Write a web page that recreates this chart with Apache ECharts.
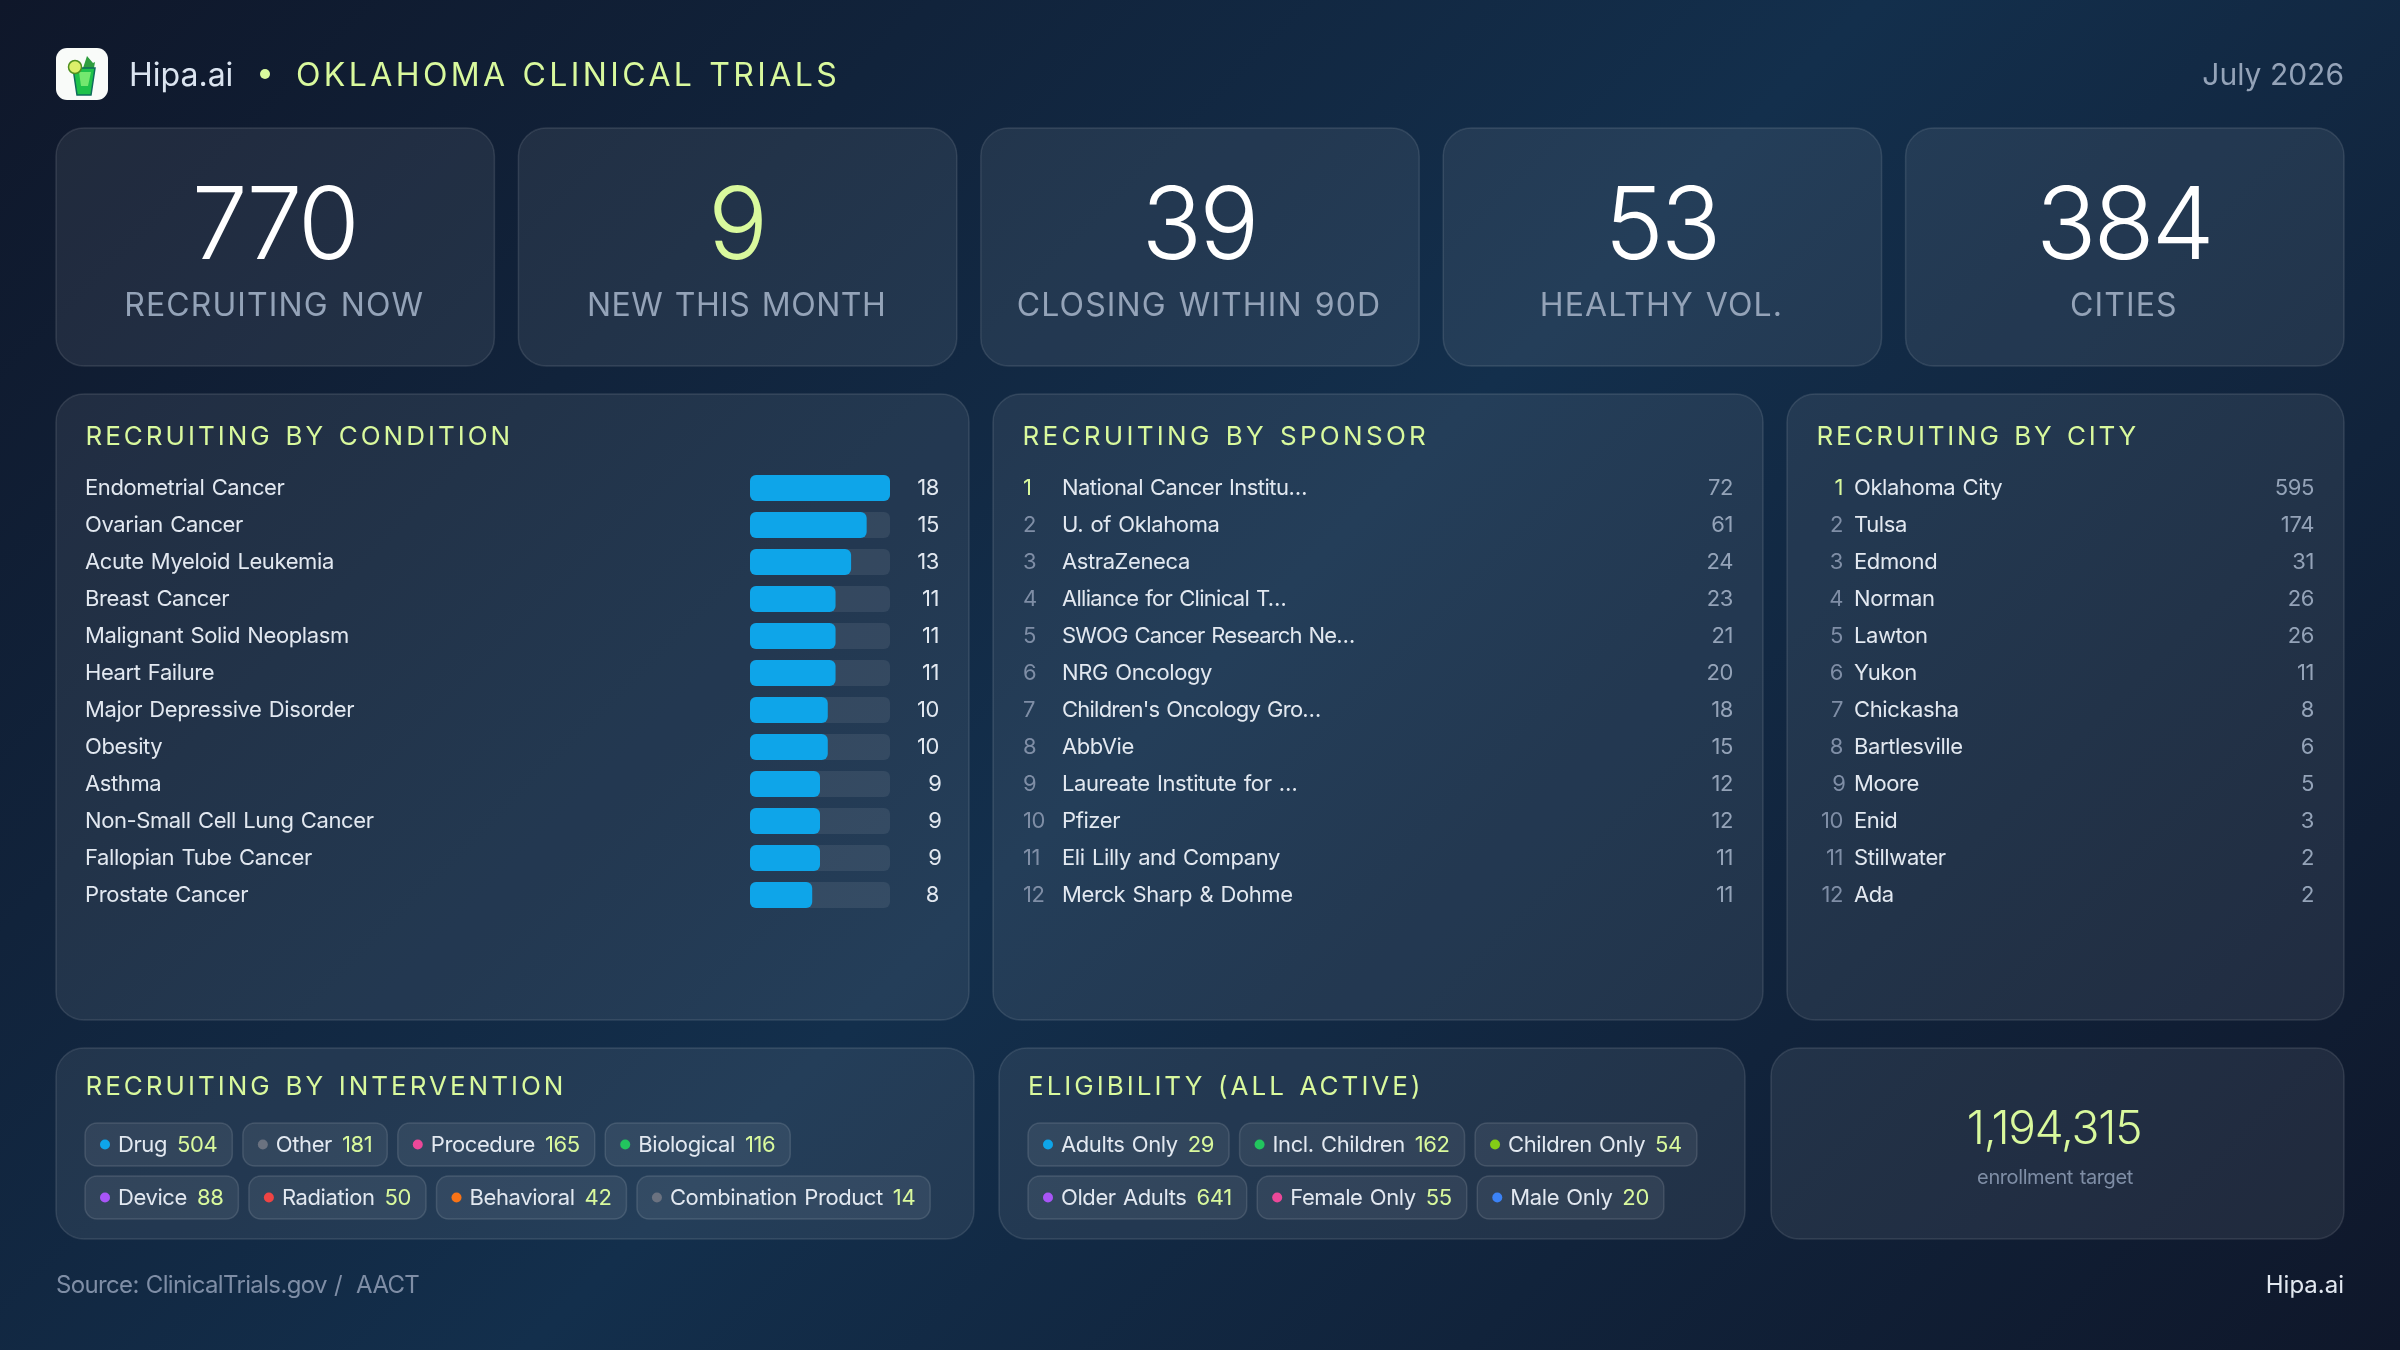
<!DOCTYPE html>
<html>
<head>
<meta charset="utf-8">
<title>Oklahoma Clinical Trials</title>
<script src="https://cdn.jsdelivr.net/npm/echarts@6/dist/echarts.min.js"></script>
<style>
html,body{margin:0;padding:0;width:2400px;height:1350px;overflow:hidden;
  background:linear-gradient(135deg,#0f172a 0%,#132f4c 50%,#0f172a 100%);}
#main{width:2400px;height:1350px;}
</style>
</head>
<body>
<div id="main"></div>
<script>
var kpiValues = ['770', '9', '39', '53', '384'];
var kpiLabels = ['RECRUITING NOW', 'NEW THIS MONTH', 'CLOSING WITHIN 90D', 'HEALTHY VOL.', 'CITIES'];

var conditionNames = ['Endometrial Cancer', 'Ovarian Cancer', 'Acute Myeloid Leukemia', 'Breast Cancer',
  'Malignant Solid Neoplasm', 'Heart Failure', 'Major Depressive Disorder', 'Obesity', 'Asthma',
  'Non-Small Cell Lung Cancer', 'Fallopian Tube Cancer', 'Prostate Cancer'];
var conditionValues = [18, 15, 13, 11, 11, 11, 10, 10, 9, 9, 9, 8];

var sponsorNames = ['National Cancer Institu…', 'U. of Oklahoma', 'AstraZeneca', 'Alliance for Clinical T…',
  'SWOG Cancer Research Ne…', 'NRG Oncology', "Children's Oncology Gro…", 'AbbVie', 'Laureate Institute for …',
  'Pfizer', 'Eli Lilly and Company', 'Merck Sharp & Dohme'];
var sponsorValues = [72, 61, 24, 23, 21, 20, 18, 15, 12, 12, 11, 11];

var cityNames = ['Oklahoma City', 'Tulsa', 'Edmond', 'Norman', 'Lawton', 'Yukon', 'Chickasha', 'Bartlesville',
  'Moore', 'Enid', 'Stillwater', 'Ada'];
var cityValues = [595, 174, 31, 26, 26, 11, 8, 6, 5, 3, 2, 2];

var interventionNames = ['Drug', 'Other', 'Procedure', 'Biological', 'Device', 'Radiation', 'Behavioral', 'Combination Product'];
var interventionValues = [504, 181, 165, 116, 88, 50, 42, 14];
var interventionDots = ['#0ea5e9', '#6b7280', '#ec4899', '#22c55e', '#a855f7', '#ef4444', '#f97316', '#6b7280'];

var eligibilityNames = ['Adults Only', 'Incl. Children', 'Children Only', 'Older Adults', 'Female Only', 'Male Only'];
var eligibilityValues = [29, 162, 54, 641, 55, 20];
var eligibilityDots = ['#0ea5e9', '#22c55e', '#84cc16', '#a855f7', '#ec4899', '#3b82f6'];

var enrollmentTarget = '1,194,315';

var FONT = 'Inter, "Noto Sans", sans-serif';
var LIME = '#d9f99d', WHITE = '#ffffff', TEXT = '#e2e8f0', MUTED = '#94a3b8', DIM = '#7f8ea6';
var PANEL_FILL = 'rgba(255,255,255,0.075)', PANEL_LINE = 'rgba(255,255,255,0.11)';

// canvas letter and word spacing, echarts has no option for it: [letter, word] in px
var spacing = {};
spacing['OKLAHOMA CLINICAL TRIALS'] = [3.4, 1.5];
['RECRUITING BY CONDITION', 'RECRUITING BY INTERVENTION', 'ELIGIBILITY (ALL ACTIVE)']
  .forEach(function (t) { spacing[t] = [3.0, 2.4]; });
spacing['RECRUITING BY SPONSOR'] = [3.3, 2.4];
spacing['RECRUITING BY CITY'] = [2.8, 2.4];
kpiLabels.forEach(function (t) { spacing[t] = [1.1, 2]; });
spacing['NEW THIS MONTH'] = [0.5, 2];
kpiValues.forEach(function (t) { spacing[t] = [-3, 0]; });
spacing[enrollmentTarget] = [-1.2, 0];
spacing['Hipa.ai'] = [0, 0];
spacing['Source: ClinicalTrials.gov /  AACT'] = [-0.65, 1];
spacing['National Cancer Institu…'] = [-0.55, 1.5];
spacing['Alliance for Clinical T…'] = [-0.7, 1.5];
spacing['SWOG Cancer Research Ne…'] = [-0.85, 1.5];
spacing["Children's Oncology Gro…"] = [-0.77, 1.5];
var BODY_SPACING = [-0.4, 1.5];   // all the other 20-24px text

function spacingFor(text, font) {
  return spacing[text] || (/\b(20|22|24)px/.test(font) ? BODY_SPACING : [0, 0]);
}
var rawFillText = CanvasRenderingContext2D.prototype.fillText;
CanvasRenderingContext2D.prototype.fillText = function (text) {
  var s = spacingFor(text, this.font);
  this.letterSpacing = s[0] + 'px';
  this.wordSpacing = s[1] + 'px';
  return rawFillText.apply(this, arguments);
};

var measureCtx = document.createElement('canvas').getContext('2d');
function textWidth(text, font) {
  measureCtx.font = font;
  var s = spacingFor(text, font);
  measureCtx.letterSpacing = s[0] + 'px';
  measureCtx.wordSpacing = s[1] + 'px';
  return measureCtx.measureText(text).width;
}

function label(text, x, y, size, fill, align, weight) {
  return {
    type: 'text', silent: true,
    style: {
      text: text, x: x, y: y, fill: fill,
      align: align || 'left', verticalAlign: 'middle',
      textAlign: align || 'left', textVerticalAlign: 'middle',
      font: (weight || 400) + ' ' + size + 'px ' + FONT
    }
  };
}
function panel(x, y, w, h) {
  return {
    type: 'rect', silent: true,
    shape: { x: x, y: y, width: w, height: h, r: 28 },
    style: { fill: PANEL_FILL, stroke: PANEL_LINE, lineWidth: 1.5 }
  };
}

// page furniture
var furniture = [];
furniture.push({ type: 'rect', silent: true, shape: { x: 56, y: 48, width: 52, height: 52, r: 11 }, style: { fill: '#f9fbf9' } });
furniture.push({ type: 'polygon', silent: true, shape: { points: [[83, 68], [87, 56], [93, 63], [95, 62], [94, 68]] }, style: { fill: '#2f9e3f' } });
furniture.push({ type: 'polygon', silent: true, shape: { points: [[73, 68], [95, 68], [91, 95], [77, 95]] }, style: { fill: '#1fc24a', stroke: '#0f6b5c', lineWidth: 1.5 } });
furniture.push({ type: 'polygon', silent: true, shape: { points: [[79, 72], [91, 72], [88, 86], [81, 86]] }, style: { fill: '#74e86f' } });
furniture.push({ type: 'circle', silent: true, shape: { cx: 75, cy: 67, r: 6.5 }, style: { fill: '#dcef6a', stroke: '#4f8f1f', lineWidth: 1.5 } });
furniture.push(label('Hipa.ai', 129, 76, 32, '#dbe4f0'));
furniture.push({ type: 'circle', silent: true, shape: { cx: 265, cy: 74, r: 5 }, style: { fill: LIME } });
furniture.push(label('OKLAHOMA CLINICAL TRIALS', 296, 76, 32, LIME));
furniture.push(label('July 2026', 2344, 76, 30, MUTED, 'right'));

var KPI_W = 438.4, KPI_GAP = 24;
kpiValues.forEach(function (v, i) {
  var x = 56 + i * (KPI_W + KPI_GAP);
  furniture.push(panel(x, 128, KPI_W, 238));
  furniture.push(label(v, x + KPI_W / 2 - 1, 229, 100, i === 1 ? LIME : WHITE, 'center', 300));
  furniture.push(label(kpiLabels[i], x + KPI_W / 2 - 1, 306, 32, MUTED, 'center'));
});

furniture.push(panel(56, 394, 913, 626));
furniture.push(panel(993, 394, 770, 626));
furniture.push(panel(1787, 394, 557, 626));
furniture.push(label('RECRUITING BY CONDITION', 85.5, 437, 26, LIME));
furniture.push(label('RECRUITING BY SPONSOR', 1022.5, 437, 26, LIME));
furniture.push(label('RECRUITING BY CITY', 1816.5, 437, 26, LIME));

furniture.push(panel(56, 1048, 918, 191));
furniture.push(panel(999, 1048, 746, 191));
furniture.push(panel(1771, 1048, 573, 191));
furniture.push(label('RECRUITING BY INTERVENTION', 85.5, 1087, 26, LIME));
furniture.push(label('ELIGIBILITY (ALL ACTIVE)', 1028, 1087, 26, LIME));
furniture.push(label(enrollmentTarget, 2054, 1130, 46, LIME, 'center', 300));
furniture.push(label('enrollment target', 2055, 1178, 20, DIM, 'center'));

furniture.push(label('Source: ClinicalTrials.gov /  AACT', 56, 1286, 24, DIM));
furniture.push(label('Hipa.ai', 2344, 1286, 24, TEXT, 'right'));

// ranked text list, rows come from the category axis
function rankedList(names, values, gridIndex, rankX, rankAlign, nameX, valueX) {
  return {
    type: 'custom', xAxisIndex: gridIndex, yAxisIndex: gridIndex, silent: true,
    data: values.map(function (v, i) { return [v, i]; }),
    encode: { x: 0, y: 1 },
    renderItem: function (params, api) {
      var i = params.dataIndex, y = api.coord([0, i])[1];
      return {
        type: 'group',
        children: [
          label(String(i + 1), rankX, y, 22, i === 0 ? LIME : DIM, rankAlign),
          label(names[i], nameX, y, 22, TEXT),
          label(String(api.value(0)), valueX, y, 22, MUTED, 'right')
        ]
      };
    }
  };
}

// pill chips laid out left to right, wrapped after rowSize
function chips(names, values, dots, startX, rowSize) {
  var font = '400 22px ' + FONT, items = [], x = startX;
  names.forEach(function (n, i) {
    if (i === rowSize) x = startX;
    var nameW = textWidth(n, font), valW = textWidth(String(values[i]), font);
    var w = 33 + nameW + 10 + valW + 15;
    items.push({ x: x, y: i < rowSize ? 1123 : 1176, w: w, nameW: nameW });
    x += w + 10.5;
  });
  return {
    type: 'custom', coordinateSystem: 'none', silent: true,
    data: values.map(function (v, i) { return [i, v]; }),
    renderItem: function (params, api) {
      var i = params.dataIndex, c = items[i], cy = c.y + 21.5;
      return {
        type: 'group',
        children: [
          { type: 'rect', shape: { x: c.x, y: c.y, width: c.w, height: 43, r: 12 },
            style: { fill: 'rgba(255,255,255,0.07)', stroke: 'rgba(255,255,255,0.12)', lineWidth: 1.5 } },
          { type: 'circle', shape: { cx: c.x + 20, cy: cy, r: 5 }, style: { fill: dots[i] } },
          label(names[i], c.x + 33, cy + 1, 22, TEXT),
          label(String(api.value(1)), c.x + 33 + c.nameW + 10, cy + 1, 22, LIME)
        ]
      };
    }
  };
}

function hiddenX(gridIndex, max) {
  return { type: 'value', gridIndex: gridIndex, min: 0, max: max, show: false };
}
function hiddenY(gridIndex, names) {
  return { type: 'category', gridIndex: gridIndex, data: names, inverse: true, show: false };
}

var ROW_TOP = 469.5, ROW_H = 444;
var option = {
  animation: false,
  textStyle: { fontFamily: FONT },
  graphic: { elements: furniture.map(function (el) { el.z = 0; return el; }) },
  grid: [
    { left: 750, width: 140, top: ROW_TOP, height: ROW_H },
    { left: 1023, width: 710, top: ROW_TOP, height: ROW_H },
    { left: 1817, width: 497, top: ROW_TOP, height: ROW_H }
  ],
  xAxis: [hiddenX(0, 18), hiddenX(1, 72), hiddenX(2, 595)],
  yAxis: [
    {
      type: 'category', gridIndex: 0, data: conditionNames, inverse: true,
      axisLine: { show: false }, axisTick: { show: false },
      axisLabel: { color: TEXT, fontSize: 22, fontFamily: FONT, align: 'left', margin: 665 }
    },
    hiddenY(1, sponsorNames),
    hiddenY(2, cityNames),
    {
      type: 'category', gridIndex: 0, position: 'right', data: conditionValues, inverse: true,
      axisLine: { show: false }, axisTick: { show: false },
      axisLabel: { color: TEXT, fontSize: 22, fontFamily: FONT, align: 'right', margin: 49 }
    }
  ],
  series: [
    {
      type: 'bar', xAxisIndex: 0, yAxisIndex: 0, data: conditionValues, barWidth: 26, silent: true,
      itemStyle: { color: '#0ea5e9', borderRadius: 6 },
      showBackground: true,
      backgroundStyle: { color: 'rgba(255,255,255,0.08)', borderRadius: 6 }
    },
    rankedList(sponsorNames, sponsorValues, 1, 1023, 'left', 1062, 1733),
    rankedList(cityNames, cityValues, 2, 1843, 'right', 1854, 2314),
    chips(interventionNames, interventionValues, interventionDots, 85, 4),
    chips(eligibilityNames, eligibilityValues, eligibilityDots, 1028, 3)
  ]
};

var chart = echarts.init(document.getElementById('main'), null, { renderer: 'canvas', devicePixelRatio: 1 });
chart.setOption(option);
</script>
</body>
</html>
